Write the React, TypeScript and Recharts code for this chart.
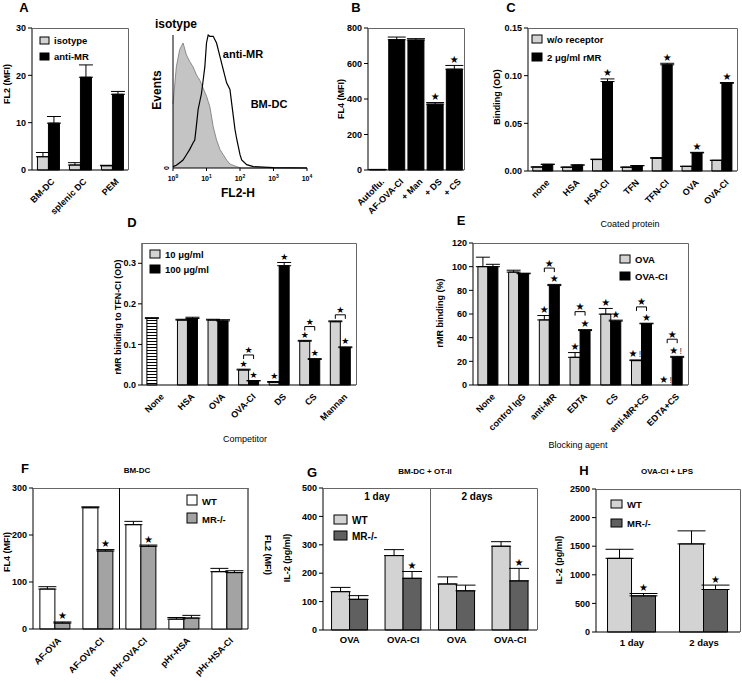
import React from 'react';
import { BarChart, Bar, XAxis, YAxis, ErrorBar, LabelList, Cell, ComposedChart, Area, Line } from 'recharts';

const FONT = '"Liberation Sans", Arial, Helvetica, sans-serif';
const LIGHT = '#d3d3d3';
const BLACK = '#000000';
const DARK = '#606060';
const MID = '#a3a3a3';
const FRAME = '#666666';

// A: MR staining
const aCats = ['BM-DC', 'splenic DC', 'PEM'];
const aIso = [2.8, 1.05, 0.9];
const aIsoErr = [0.9, 0.5, 0.1];
const aAnti = [9.9, 19.6, 16.0];
const aAntiErr = [1.4, 2.6, 0.6];

// A histogram: log10 FL2-H vs events (% of max)
const histLog = [0, 0.1, 0.2, 0.3, 0.4, 0.5, 0.6, 0.65, 0.7, 0.75, 0.8, 0.85, 0.9, 0.95, 1.0, 1.05, 1.1, 1.2, 1.3, 1.4, 1.5, 1.6, 1.7, 1.75, 1.8, 1.85, 1.9, 1.95, 2.0, 2.05, 2.2, 2.4, 3.0, 4.0];
const histIso = [48, 76, 89, 94, 85, 80, 76, 73, 70, 68, 66, 63, 60, 57, 54, 50, 46, 31, 21, 14, 10, 6, 3, 2.5, 2, 1.5, 1, 0.6, 0.3, 0, 0, 0, 0, 0];
const histAnti = [1, 2, 4, 6, 10, 14, 19, 21, 32, 44, 50, 56, 66, 76, 94, 100, 99, 99, 94, 84, 74, 64, 59, 49, 39, 29, 22, 16, 10, 6, 2.5, 1, 0.3, 0];
const histTicks = [0, 1, 2, 3, 4];

// B
const bCats = ['Autoflu.', 'AF-OVA-CI', '+ Man', '+ DS', '+ CS'];
const bVals = [3, 734, 732, 371, 568];
const bErr = [0, 15, 8, 9, 21];
const bStars = ['', '', '', '★', '★'];

// C
const cCats = ['none', 'HSA', 'HSA-CI', 'TFN', 'TFN-CI', 'OVA', 'OVA-CI'];
const cNoRec = [0.0042, 0.004, 0.012, 0.004, 0.0133, 0.0049, 0.0112];
const cNoRecErr = [0, 0, 0.0005, 0, 0.0008, 0, 0];
const cRmr = [0.007, 0.0063, 0.0938, 0.0056, 0.1114, 0.019, 0.092];
const cRmrErr = [0, 0, 0.0028, 0, 0.0016, 0.0006, 0.0008];
const cNoRecStars = ['', '', '', '', '', '', ''];
const cRmrStars = ['', '', '★', '', '★', '★', '★'];

// D
const dCats = ['None', 'HSA', 'OVA', 'OVA-CI', 'DS', 'CS', 'Mannan'];
const d10 = [0.164, 0.16, 0.16, 0.037, 0.0066, 0.108, 0.156];
const d10Err = [0.002, 0.002, 0.002, 0.002, 0.002, 0.002, 0.002];
const d100 = [null, 0.164, 0.158, 0.01, 0.294, 0.063, 0.092];
const d100Err = [0, 0.003, 0.003, 0.001, 0.008, 0.002, 0.002];
const d10Stars = ['', '', '', '★', '★', '★', ''];
const d100Stars = ['', '', '', '★', '★', '★', '★'];
const dBrackets = [null, null, null, 0.074, null, 0.144, 0.173];

// E
const eCats = ['None', 'control IgG', 'anti-MR', 'EDTA', 'CS', 'anti-MR+CS', 'EDTA+CS'];
const eOva = [100, 95.4, 55, 23.4, 59.9, 20.6, 0];
const eOvaErr = [8, 1.6, 3.7, 4, 4.8, 0.6, 0];
const eOvaCl = [100, 94, 84, 46, 54, 51.7, 23.4];
const eOvaClErr = [2, 0.5, 1, 0.8, 0.8, 0.5, 0.8];
const eOvaStars = ['', '', '★', '★', '★', '★!', '★!'];
const eOvaClStars = ['', '', '★', '★', '★', '★', '★!'];
const eBrackets = [null, null, 98.8, 62, null, 66, 38.7];

// F (first two on FL4 axis, last three on FL2 axis)
const fCats = ['AF-OVA', 'AF-OVA-CI', 'pHr-OVA-CI', 'pHr-HSA', 'pHr-HSA-CI'];
const fOnFL4 = [true, true, false, false, false];
const fWt = [85, 258, 22.2, 2.1, 12.2];
const fWtErr = [5, 2, 0.7, 0.35, 0.7];
const fMr = [12.7, 166, 17.6, 2.33, 12.0];
const fMrErr = [2.3, 3, 0.26, 0.57, 0.4];
const fWtStars = ['', '', '', '', ''];
const fMrStars = ['★', '★', '★', '', ''];

// G
const gCats = ['OVA', 'OVA-CI', 'OVA', 'OVA-CI'];
const gWt = [135, 262, 162, 295];
const gWtErr = [15, 21, 25, 16];
const gMr = [108, 182, 138, 173];
const gMrErr = [13, 24, 20, 44];
const gWtStars = ['', '', '', ''];
const gMrStars = ['', '★', '', '★'];

// H
const hCats = ['1 day', '2 days'];
const hWt = [1288, 1540];
const hWtErr = [158, 228];
const hMr = [632, 743];
const hMrErr = [41, 77];
const hWtStars = ['', ''];
const hMrStars = ['★', '★'];

const TOP = 10;
const LEFT = 40;
const XH = 60;

const tickStyle = { fontSize: 9, fontWeight: 'bold', fill: '#000', fontFamily: FONT };

function RotTick(props: any) {
  const { x, y, payload } = props;
  const ax = x + 5;
  const ay = y + 8;
  return (
    <text x={ax} y={ay} dy="0.35em" transform={`rotate(-45 ${ax} ${ay})`} textAnchor="end" fontSize={9} fontWeight="bold" fontFamily={FONT} fill="#000">
      {payload.value}
    </text>
  );
}

function FlatTick(props: any) {
  const { x, y, payload, dy0 } = props;
  return (
    <text x={x} y={y + (dy0 || 11)} textAnchor="middle" fontSize={9.5} fontWeight="bold" fontFamily={FONT} fill="#000">
      {payload.value}
    </text>
  );
}

function PowTick(props: any) {
  const { x, y, payload } = props;
  return (
    <text x={x} y={y + 8} textAnchor="middle" fontSize={7} fontWeight="bold" fontFamily={FONT} fill="#000">
      10<tspan dy={-3} fontSize={5}>{payload.value}</tspan>
    </text>
  );
}

function ZeroTick(props: any) {
  const { x, y } = props;
  return (
    <text x={x - 2} y={y} transform={`rotate(-90 ${x - 2} ${y})`} textAnchor="middle" fontSize={7} fontWeight="bold" fontFamily={FONT} fill="#000">
      0
    </text>
  );
}

function starText(key: string, cx: number, by: number, s: string, fs: number) {
  if (s === '★!') {
    return (
      <g key={key}>
        <text x={cx - 3.5} y={by} textAnchor="middle" fontSize={fs} fontFamily="DejaVu Sans" fill="#000">★</text>
        <text x={cx + 3.5} y={by} textAnchor="middle" fontSize={fs - 1} fontFamily={FONT} fill="#333">!</text>
      </g>
    );
  }
  return (
    <text key={key} x={cx} y={by} textAnchor="middle" fontSize={fs} fontFamily="DejaVu Sans" fill="#000">★</text>
  );
}

function StarMark(props: any) {
  const { lp, stars, errs, ppu, plotBottom, bracket, size, prev } = props;
  const vb = lp.viewBox || lp;
  const i = Number(lp.value);
  const s = stars[i];
  const hasBr = bracket !== null && bracket !== undefined;
  const prevZero = prev && prev.vals[i] === 0 && prev.stars[i];
  if (!s && !hasBr && !prevZero) return null;
  const x = Number(vb.x);
  const y = Number(vb.y);
  const w = Number(vb.width);
  const cx = x + w / 2;
  const top = y - (errs[i] || 0) * ppu;
  const fs = size || 10;
  const parts: any[] = [];
  if (s) parts.push(starText('s', cx, top - 2.5, s, fs));
  // a zero-height bar in the first series has no label of its own
  if (prevZero) parts.push(starText('p', cx - w, plotBottom - 2.5, prev.stars[i], fs));
  if (hasBr) {
    const by = plotBottom - bracket * ppu;
    const xa = cx - w;
    const xb = cx;
    parts.push(<path key="b" d={`M${xa},${by + 4}V${by}H${xb}V${by + 4}`} stroke="#000" strokeWidth={1} fill="none" />);
    parts.push(starText('bs', (xa + xb) / 2, by - 1.5, '★', fs));
  }
  return <g>{parts}</g>;
}

type Series = {
  name: string;
  vals: (number | null)[];
  errs: number[];
  stars: string[];
  fill: string;
  cellFills?: (string | null)[];
};

type Box = { x0: number; y0: number; x1: number; y1: number };

function GroupPanel(p: any) {
  const { box, cats, series, yMax, yTicks, fmt, capW = 8, gap = '16%', brackets, flat = false, tickDy = 11, rightPad = 6, defs, starSize = 10 } = p;
  const plotW = box.x1 - box.x0;
  const plotH = box.y1 - box.y0;
  const ppu = plotH / yMax;
  const data = cats.map((c: string, i: number) => {
    const row: any = { idx: i, cat: c };
    series.forEach((s: Series, k: number) => {
      row['v' + k] = s.vals[i];
      row['e' + k] = [0, s.errs[i]];
    });
    return row;
  });
  return (
    <div style={{ position: 'absolute', left: box.x0 - LEFT, top: box.y0 - TOP }}>
      <BarChart width={plotW + LEFT + rightPad} height={plotH + TOP + XH} data={data} margin={{ top: TOP, right: rightPad, left: 0, bottom: 0 }} barCategoryGap={gap} barGap={0}>
        {defs}
        <XAxis dataKey="cat" interval={0} tickLine={false} tickSize={0} height={XH} axisLine={{ stroke: '#000' }} tick={flat ? <FlatTick dy0={tickDy} /> : <RotTick />} />
        <YAxis width={LEFT} type="number" domain={[0, yMax]} ticks={yTicks} tickFormatter={fmt} tick={tickStyle} tickSize={4} tickMargin={2} axisLine={{ stroke: '#000' }} tickLine={{ stroke: '#000' }} interval={0} />
        {series.map((s: Series, k: number) => (
          <Bar key={k} dataKey={'v' + k} name={s.name} fill={s.fill} stroke="#000" strokeWidth={1} isAnimationActive={false}>
            {s.cellFills ? cats.map((c: string, i: number) => <Cell key={i} fill={(s.cellFills as any)[i] || s.fill} />) : null}
            <ErrorBar dataKey={'e' + k} width={capW} stroke="#000" strokeWidth={1} direction="y" />
            <LabelList
              dataKey="idx"
              content={(lp: any) => (
                <StarMark
                  lp={lp}
                  stars={s.stars}
                  errs={s.errs}
                  ppu={ppu}
                  plotBottom={TOP + plotH}
                  size={starSize}
                  prev={k === 1 ? series[0] : null}
                  bracket={k === 1 && brackets ? brackets[Number(lp.value)] : null}
                />
              )}
            />
          </Bar>
        ))}
      </BarChart>
    </div>
  );
}

function HistPanel({ box }: { box: Box }) {
  const plotW = box.x1 - box.x0;
  const plotH = box.y1 - box.y0;
  const data = histLog.map((l, i) => ({ l, iso: histIso[i], anti: histAnti[i] }));
  return (
    <div style={{ position: 'absolute', left: box.x0 - LEFT, top: box.y0 - TOP }}>
      <ComposedChart width={plotW + LEFT + 10} height={plotH + TOP + 30} data={data} margin={{ top: TOP, right: 10, left: 0, bottom: 0 }}>
        <XAxis dataKey="l" type="number" domain={[0, 4]} ticks={histTicks} tick={<PowTick />} tickSize={3} height={30} axisLine={{ stroke: '#000' }} tickLine={{ stroke: '#000' }} />
        <YAxis width={LEFT} type="number" domain={[0, 100]} ticks={[0]} tick={<ZeroTick />} tickSize={0} axisLine={{ stroke: '#000' }} />
        <Area type="linear" dataKey="iso" fill="#c4c4c4" fillOpacity={1} stroke="#8a8a8a" strokeWidth={1} isAnimationActive={false} dot={false} />
        <Line type="linear" dataKey="anti" stroke="#000" strokeWidth={1.2} dot={false} isAnimationActive={false} />
      </ComposedChart>
    </div>
  );
}

function FPanel({ box }: { box: Box }) {
  const plotW = box.x1 - box.x0;
  const plotH = box.y1 - box.y0;
  const RW = 30;
  const charts = [true, false].map((leftAxis) => {
    const data = fCats.map((c, i) => ({
      idx: i,
      cat: c,
      wt: fOnFL4[i] === leftAxis ? fWt[i] : null,
      mr: fOnFL4[i] === leftAxis ? fMr[i] : null,
      wtE: [0, fWtErr[i]],
      mrE: [0, fMrErr[i]],
    }));
    const axisId = leftAxis ? 'l' : 'r';
    const ppu = plotH / (leftAxis ? 300 : 30);
    const show = leftAxis;
    return (
      <div key={axisId} style={{ position: 'absolute', left: box.x0 - LEFT, top: box.y0 - TOP }}>
        <BarChart width={plotW + LEFT + RW} height={plotH + TOP + XH} data={data} margin={{ top: TOP, right: 0, left: 0, bottom: 0 }} barCategoryGap="16%" barGap={0}>
          <XAxis dataKey="cat" interval={0} tickLine={false} tickSize={0} height={XH} axisLine={show ? { stroke: '#000' } : false} tick={show ? <RotTick /> : false} />
          <YAxis yAxisId="l" width={LEFT} type="number" domain={[0, 300]} ticks={[0, 100, 200, 300]} tick={show ? tickStyle : false} tickSize={4} tickMargin={2} axisLine={show ? { stroke: '#000' } : false} tickLine={show ? { stroke: '#000' } : false} />
          <YAxis yAxisId="r" orientation="right" width={RW} type="number" domain={[0, 30]} ticks={[0, 10, 20, 30]} tick={show ? tickStyle : false} tickSize={4} tickMargin={2} axisLine={show ? { stroke: '#000' } : false} tickLine={show ? { stroke: '#000' } : false} />
          <Bar yAxisId={axisId} dataKey="wt" name="WT" fill="#ffffff" stroke="#000" strokeWidth={1} isAnimationActive={false}>
            <ErrorBar dataKey="wtE" width={9} stroke="#000" strokeWidth={1} direction="y" />
            <LabelList dataKey="idx" content={(lp: any) => <StarMark lp={lp} stars={fWtStars} errs={fWtErr} ppu={ppu} plotBottom={TOP + plotH} />} />
          </Bar>
          <Bar yAxisId={axisId} dataKey="mr" name="MR-/-" fill={MID} stroke="#000" strokeWidth={1} isAnimationActive={false}>
            <ErrorBar dataKey="mrE" width={9} stroke="#000" strokeWidth={1} direction="y" />
            <LabelList dataKey="idx" content={(lp: any) => <StarMark lp={lp} stars={fMrStars} errs={fMrErr} ppu={ppu} plotBottom={TOP + plotH} />} />
          </Bar>
        </BarChart>
      </div>
    );
  });
  return <>{charts}</>;
}

function T(props: any) {
  const { x, y, children, size = 9, weight = 'bold', anchor = 'middle', rot = 0 } = props;
  return (
    <text
      x={0}
      y={0}
      transform={`translate(${x},${y}) rotate(${rot})`}
      textAnchor={anchor}
      dominantBaseline={rot ? 'central' : 'auto'}
      fontSize={size}
      fontWeight={weight}
      fontFamily={FONT}
      fill="#000"
    >
      {children}
    </text>
  );
}

function Leg(props: any) {
  const { x, y, w, h, gap, size = 9.5, items } = props;
  return (
    <g>
      {items.map((it: any, i: number) => (
        <g key={i}>
          <rect x={x} y={y + i * gap} width={w} height={h} fill={it.fill} stroke="#000" strokeWidth={1} />
          <T x={x + w + 5} y={y + i * gap + h} size={size} anchor="start">{it.label}</T>
        </g>
      ))}
    </g>
  );
}

function frame(b: Box, right = true) {
  return (
    <path d={`M${b.x0},${b.y0 + 0.5}H${b.x1 + 0.5}` + (right ? `V${b.y1}` : '')} stroke={FRAME} strokeWidth={1} fill="none" />
  );
}

const boxA: Box = { x0: 32, y0: 28, x1: 128, y1: 170 };
const boxHist: Box = { x0: 173, y0: 35, x1: 307, y1: 168 };
const boxB: Box = { x0: 368, y0: 28, x1: 464, y1: 170 };
const boxC: Box = { x0: 528, y0: 28, x1: 737, y1: 171 };
const boxD: Box = { x0: 142, y0: 243, x1: 356, y1: 385 };
const boxE: Box = { x0: 473, y0: 243, x1: 688, y1: 385 };
const boxF: Box = { x0: 33, y0: 488, x1: 248, y1: 629 };
const boxG: Box = { x0: 323, y0: 488, x1: 537, y1: 630 };
const boxH: Box = { x0: 596, y0: 489, x1: 740, y1: 632 };

const hatchDefs = (
  <defs>
    <pattern id="hatch" width="4" height="3" patternUnits="userSpaceOnUse">
      <rect width="4" height="3" fill="#ffffff" />
      <line x1="0" y1="0.5" x2="4" y2="0.5" stroke="#000" strokeWidth="1" />
    </pattern>
  </defs>
);

export default function App() {
  return (
    <div style={{ position: 'relative', width: 742, height: 683, overflow: 'hidden', background: '#fff', fontFamily: FONT }}>
      <style>{'body{margin:0}'}</style>

      <GroupPanel
        box={boxA}
        cats={aCats}
        yMax={30}
        yTicks={[0, 10, 20, 30]}
        capW={7}
        gap="17%"
        series={[
          { name: 'isotype', vals: aIso, errs: aIsoErr, stars: ['', '', ''], fill: LIGHT },
          { name: 'anti-MR', vals: aAnti, errs: aAntiErr, stars: ['', '', ''], fill: BLACK },
        ]}
      />
      <HistPanel box={boxHist} />
      <GroupPanel
        box={boxB}
        cats={bCats}
        yMax={800}
        yTicks={[0, 200, 400, 600, 800]}
        capW={9}
        gap="8%"
        rightPad={4}
        series={[{ name: 'FL4', vals: bVals, errs: bErr, stars: bStars, fill: BLACK }]}
      />
      <GroupPanel
        box={boxC}
        cats={cCats}
        yMax={0.15}
        yTicks={[0, 0.05, 0.1, 0.15]}
        fmt={(v: number) => v.toFixed(2)}
        capW={7}
        rightPad={4}
        series={[
          { name: 'w/o receptor', vals: cNoRec, errs: cNoRecErr, stars: cNoRecStars, fill: LIGHT },
          { name: '2 μg/ml rMR', vals: cRmr, errs: cRmrErr, stars: cRmrStars, fill: BLACK },
        ]}
      />
      <GroupPanel
        box={boxD}
        cats={dCats}
        yMax={0.35}
        yTicks={[0, 0.1, 0.2, 0.3]}
        fmt={(v: number) => v.toFixed(1)}
        capW={7}
        starSize={9}
        brackets={dBrackets}
        defs={hatchDefs}
        series={[
          { name: '10 μg/ml', vals: d10, errs: d10Err, stars: d10Stars, fill: LIGHT, cellFills: ['url(#hatch)', null, null, null, null, null, null] },
          { name: '100 μg/ml', vals: d100, errs: d100Err, stars: d100Stars, fill: BLACK },
        ]}
      />
      <GroupPanel
        box={boxE}
        cats={eCats}
        yMax={120}
        yTicks={[0, 20, 40, 60, 80, 100, 120]}
        capW={7}
        brackets={eBrackets}
        series={[
          { name: 'OVA', vals: eOva, errs: eOvaErr, stars: eOvaStars, fill: LIGHT },
          { name: 'OVA-CI', vals: eOvaCl, errs: eOvaClErr, stars: eOvaClStars, fill: BLACK },
        ]}
      />
      <FPanel box={boxF} />
      <GroupPanel
        box={boxG}
        cats={gCats}
        yMax={500}
        yTicks={[0, 100, 200, 300, 400, 500]}
        capW={10}
        flat
        tickDy={11}
        rightPad={4}
        series={[
          { name: 'WT', vals: gWt, errs: gWtErr, stars: gWtStars, fill: LIGHT },
          { name: 'MR-/-', vals: gMr, errs: gMrErr, stars: gMrStars, fill: DARK },
        ]}
      />
      <GroupPanel
        box={boxH}
        cats={hCats}
        yMax={2500}
        yTicks={[0, 500, 1000, 1500, 2000, 2500]}
        capW={14}
        flat
        tickDy={12}
        rightPad={2}
        series={[
          { name: 'WT', vals: hWt, errs: hWtErr, stars: hWtStars, fill: LIGHT },
          { name: 'MR-/-', vals: hMr, errs: hMrErr, stars: hMrStars, fill: DARK },
        ]}
      />

      <svg width={742} height={683} style={{ position: 'absolute', left: 0, top: 0, pointerEvents: 'none' }}>
        {frame(boxA)}
        {frame(boxB)}
        {frame(boxC)}
        {frame(boxD)}
        {frame(boxE)}
        {frame(boxF, false)}
        {frame(boxG)}
        {frame(boxH)}
        <line x1={119.5} y1={boxF.y0} x2={119.5} y2={boxF.y1} stroke="#000" strokeWidth={1} />
        <line x1={430.5} y1={boxG.y0} x2={430.5} y2={boxG.y1} stroke={FRAME} strokeWidth={1} />

        <T x={24} y={12} size={13}>A</T>
        <T x={356} y={12} size={13}>B</T>
        <T x={511} y={12} size={13}>C</T>
        <T x={132} y={227} size={13}>D</T>
        <T x={461} y={225} size={13}>E</T>
        <T x={25} y={473} size={13}>F</T>
        <T x={312} y={477} size={13}>G</T>
        <T x={584} y={475} size={13}>H</T>

        <T x={7} y={84} rot={-90}>FL2 (MFI)</T>
        <T x={157} y={90} rot={-90} size={12}>Events</T>
        <T x={176} y={28} size={12}>isotype</T>
        <T x={243} y={58} size={11}>anti-MR</T>
        <T x={269} y={108} size={11}>BM-DC</T>
        <T x={238} y={197} size={12}>FL2-H</T>
        <T x={341} y={99} rot={-90}>FL4 (MFI)</T>
        <T x={497} y={97} rot={-90}>Binding (OD)</T>
        <T x={630} y={227} weight="normal">Coated protein</T>
        <T x={118} y={317} rot={-90} size={8.8}>rMR binding to TFN-CI (OD)</T>
        <T x={245} y={442} weight="normal">Competitor</T>
        <T x={440} y={313} rot={-90}>rMR binding (%)</T>
        <T x={578} y={448} weight="normal">Blocking agent</T>
        <T x={137} y={473} size={8}>BM-DC</T>
        <T x={7} y={552} rot={-90}>FL4 (MFI)</T>
        <T x={268} y={555} rot={90}>FL2 (MFI)</T>
        <T x={425} y={474} size={8}>BM-DC + OT-II</T>
        <T x={377} y={500} size={10}>1 day</T>
        <T x={477} y={500} size={10}>2 days</T>
        <T x={287} y={558} rot={-90}>IL-2 (pg/ml)</T>
        <T x={667} y={474} size={8}>OVA-CI + LPS</T>
        <T x={559} y={560} rot={-90}>IL-2 (pg/ml)</T>

        <Leg x={40} y={37} w={9} h={7} gap={16} items={[{ fill: LIGHT, label: 'isotype' }, { fill: BLACK, label: 'anti-MR' }]} />
        <Leg x={532} y={35} w={10} h={8} gap={18} items={[{ fill: LIGHT, label: 'w/o receptor' }, { fill: BLACK, label: '2 μg/ml rMR' }]} />
        <Leg x={150} y={250} w={10} h={8} gap={15} items={[{ fill: LIGHT, label: '10 μg/ml' }, { fill: BLACK, label: '100 μg/ml' }]} />
        <Leg x={620} y={255} w={10} h={8} gap={17} items={[{ fill: LIGHT, label: 'OVA' }, { fill: BLACK, label: 'OVA-CI' }]} />
        <Leg x={187} y={495} w={10} h={10} gap={18} items={[{ fill: '#ffffff', label: 'WT' }, { fill: MID, label: 'MR-/-' }]} />
        <Leg x={334} y={515} w={13} h={9} gap={16} size={10} items={[{ fill: LIGHT, label: 'WT' }, { fill: DARK, label: 'MR-/-' }]} />
        <Leg x={611} y={500} w={11} h={8} gap={19} items={[{ fill: LIGHT, label: 'WT' }, { fill: DARK, label: 'MR-/-' }]} />
      </svg>
    </div>
  );
}
